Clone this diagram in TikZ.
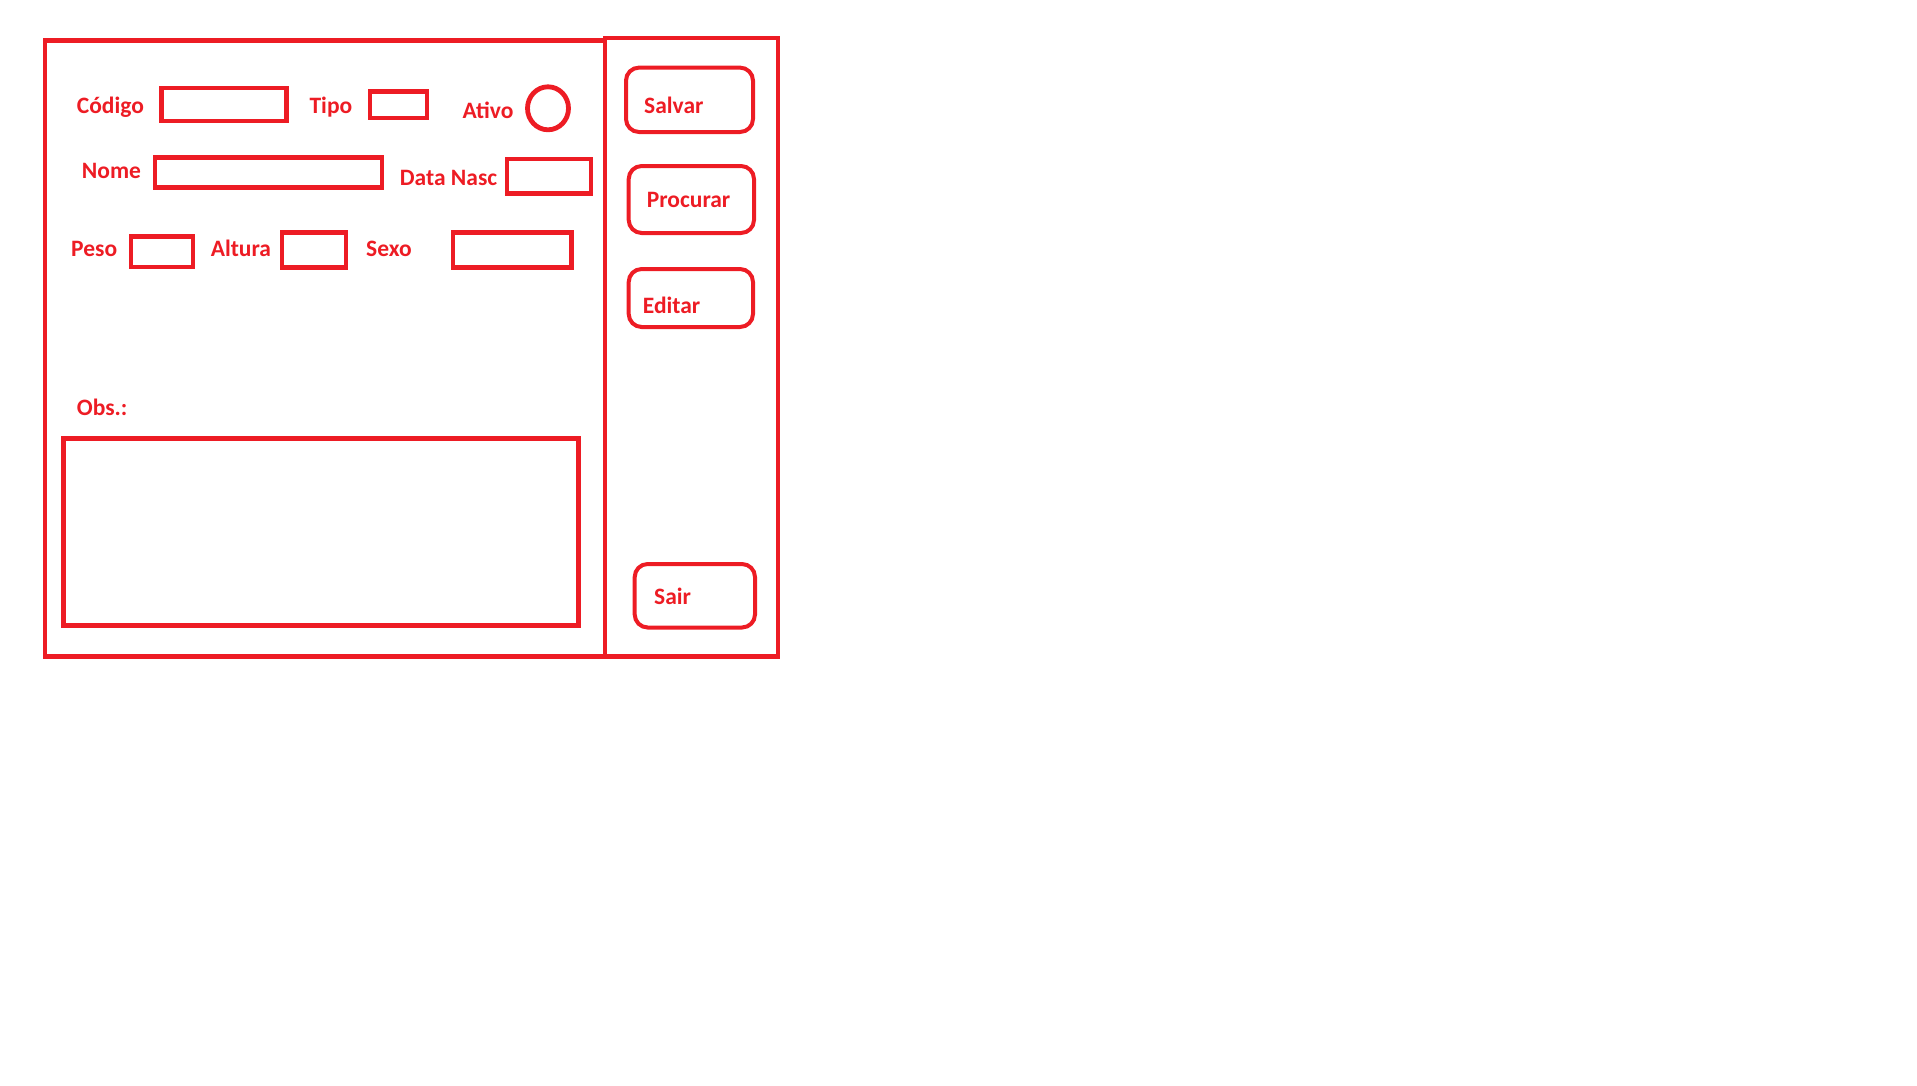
\documentclass[tikz,border=0pt]{standalone}
\usepackage{fontspec}
\setmainfont{Carlito}
\definecolor{pr}{HTML}{ED1C24}
\begin{document}
\begin{tikzpicture}[x=1pt,y=-1pt,
  lbl/.style={anchor=base west, inner sep=0pt, text=pr, font=\fontsize{23.5}{28}\selectfont\bfseries},
  frame/.style={draw=pr, line width=4.5pt},
  fld/.style={draw=pr, line width=4.8pt},
  btn/.style={draw=pr, line width=4pt, rounded corners=13pt}]
\useasboundingbox (0,0) rectangle (1917,1085);
% panels
\draw[frame] (45,40.5) rectangle (605,656.5);
\draw[frame] (605,38) rectangle (778,656.5);
% fields
\draw[fld] (161.5,88) rectangle (286.5,121);
\draw[fld] (370,91.5) rectangle (427,118);
\draw[fld] (548,108.3) ellipse [x radius=20.5, y radius=21.5];
\draw[fld] (155,157.5) rectangle (382,187.5);
\draw[fld] (507,159) rectangle (591,193.5);
\draw[fld] (131,236.5) rectangle (193,267);
\draw[fld] (282,232.5) rectangle (346,267.5);
\draw[fld] (453,232.5) rectangle (571.5,267.5);
\draw[fld] (63.7,438.3) rectangle (578.7,625.5);
% labels
\node[lbl] (codigo) at (76.7,113) {Código};
\node[lbl] (tipo) at (309.4,113) {Tipo};
\node[lbl] (ativo) at (462.5,118.3) {Ativo};
\node[lbl] (nome) at (81.7,178.3) {Nome};
\node[lbl] (datanasc) at (399.7,185) {Data Nasc};
\node[lbl] (peso) at (71,256.7) {Peso};
\node[lbl] (altura) at (210.6,256) {Altura};
\node[lbl] (sexo) at (366,256) {Sexo};
\node[lbl] (obs) at (76.7,415) {Obs.:};
% buttons
\draw[btn] (626,67.6) rectangle (753,132);
\draw[btn] (628.7,166) rectangle (754,233);
\draw[btn] (628.7,269) rectangle (753,327);
\draw[btn] (634.7,564) rectangle (755,627.5);
\node[lbl] (salvar) at (644,113) {Salvar};
\node[lbl] (procurar) at (646.7,207) {Procurar};
\node[lbl] (editar) at (642.7,313) {Editar};
\node[lbl] (sair) at (654,604.6) {Sair};
\end{tikzpicture}
\end{document}
